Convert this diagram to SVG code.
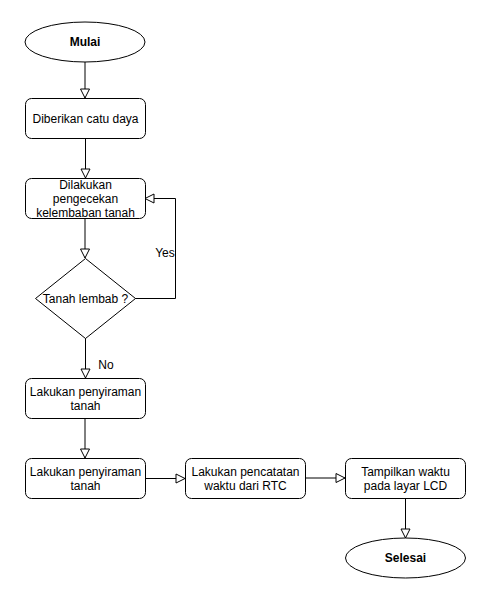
<svg xmlns="http://www.w3.org/2000/svg" width="489" height="606" viewBox="0 0 489 606">
<style>
.s{fill:#fff;stroke:#000;stroke-width:1}
.t{font-family:"Liberation Sans",Arial,sans-serif;font-size:12px;fill:#000;text-anchor:middle}
.b{font-weight:bold}
.c{fill:none;stroke:#000;stroke-width:1}
</style>
<defs>
<marker id="a" markerUnits="userSpaceOnUse" markerWidth="12" markerHeight="12" viewBox="-1 -1 12 12" refX="9" refY="4.5" orient="auto">
<path d="M0,0 L9,4.5 L0,9 Z" fill="#fff" stroke="#000" stroke-width="1"/>
</marker>
</defs>
<rect width="489" height="606" fill="#fff"/>
<g id="connectors">
<path class="c" d="M85,62 V98" marker-end="url(#a)"/>
<path class="c" d="M85.5,138 V178" marker-end="url(#a)"/>
<path class="c" d="M85,218 V258" marker-end="url(#a)"/>
<path class="c" d="M135,298.5 H175.5 V198.5 H145" marker-end="url(#a)"/>
<path class="c" d="M85.5,338 V378" marker-end="url(#a)"/>
<path class="c" d="M85,418 V458" marker-end="url(#a)"/>
<path class="c" d="M145,478.5 H185" marker-end="url(#a)"/>
<path class="c" d="M305,478 H345" marker-end="url(#a)"/>
<path class="c" d="M405.5,498 V538" marker-end="url(#a)"/>
<text class="t" x="165" y="257">Yes</text>
<text class="t" x="106" y="369">No</text>
</g>
<g id="mulai">
<ellipse class="s" cx="85" cy="42" rx="60" ry="20"/>
<text class="t b" x="85" y="46">Mulai</text>
</g>
<g id="catu">
<rect class="s" x="25.5" y="98.5" width="120" height="40" rx="6"/>
<text class="t" x="85.5" y="123">Diberikan catu daya</text>
</g>
<g id="cek">
<rect class="s" x="25.5" y="178.5" width="120" height="40" rx="6"/>
<text class="t" x="85.5" y="189">Dilakukan</text>
<text class="t" x="85.5" y="203">pengecekan</text>
<text class="t" x="85.5" y="217">kelembaban tanah</text>
</g>
<g id="lembab">
<path class="s" d="M85.5,258.5 L135.5,298.5 L85.5,338.5 L35.5,298.5 Z"/>
<text class="t" x="85.5" y="302.5">Tanah lembab ?</text>
</g>
<g id="siram1">
<rect class="s" x="25.5" y="378.5" width="120" height="40" rx="6"/>
<text class="t" x="85.5" y="396">Lakukan penyiraman</text>
<text class="t" x="85.5" y="410">tanah</text>
</g>
<g id="siram2">
<rect class="s" x="25.5" y="458.5" width="120" height="40" rx="6"/>
<text class="t" x="85.5" y="476">Lakukan penyiraman</text>
<text class="t" x="85.5" y="490">tanah</text>
</g>
<g id="rtc">
<rect class="s" x="185.5" y="458.5" width="120" height="40" rx="6"/>
<text class="t" x="245.5" y="476">Lakukan pencatatan</text>
<text class="t" x="245.5" y="490">waktu dari RTC</text>
</g>
<g id="lcd">
<rect class="s" x="345.5" y="458.5" width="120" height="40" rx="6"/>
<text class="t" x="405.5" y="476">Tampilkan waktu</text>
<text class="t" x="405.5" y="490">pada layar LCD</text>
</g>
<g id="selesai">
<ellipse class="s" cx="405.5" cy="558" rx="60" ry="20"/>
<text class="t b" x="405.5" y="562">Selesai</text>
</g>
</svg>
